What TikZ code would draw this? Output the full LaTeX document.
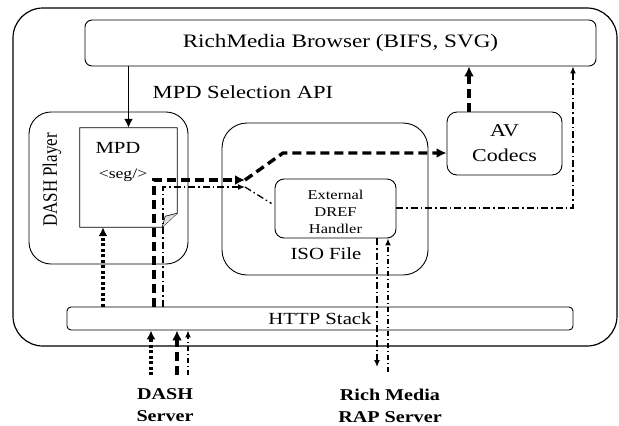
\documentclass[tikz,border=0pt]{standalone}
\usepackage{fontspec}
\setmainfont[FakeStretch=1.22]{Liberation Serif}
\newfontfamily\plainserif{Liberation Serif}
\usetikzlibrary{arrows.meta}
\begin{document}
\begin{tikzpicture}[x=1pt,y=-1pt,
  box/.style={draw, line width=0.9pt, rounded corners=#1, inner sep=0pt},
  box/.default=6pt,
  fs/.style={font=\fontsize{#1}{#1}\selectfont},
  solidarr/.style={line width=1.9pt, -{Latex[length=9pt,width=9pt]}},
  thickdash/.style={line width=3.4pt, dash pattern=on 9pt off 5pt, -{Latex[length=10pt,width=10pt]}},
  thickdot/.style={line width=3.4pt, dash pattern=on 3pt off 2.5pt, -{Latex[length=9pt,width=9pt]}},
  dashdot/.style={line width=1.3pt, dash pattern=on 7pt off 3pt on 1.5pt off 3pt},
  dashdotarr/.style={dashdot, -{Latex[length=7pt,width=6pt]}},
  thindash/.style={line width=1.3pt, dash pattern=on 5pt off 3pt on 1pt off 3pt, -{Latex[length=7pt,width=6pt]}},
]
\useasboundingbox (0,0) rectangle (619,426);

% boxes
\node[box=30pt, line width=1.2pt, minimum width=604pt, minimum height=338pt] (outer) at (315,177) {};
\node[box=7pt, minimum width=511pt, minimum height=46pt, fs=19] (browser) at (340.5,43) {RichMedia Browser (BIFS, SVG)};
\node[fs=18.5, inner sep=0pt] (api) at (243,92) {MPD Selection API};
\node[box=22pt, minimum width=159pt, minimum height=152pt] (player) at (108.5,188) {};
\node[rotate=90, yscale=1.2, font=\plainserif\fontsize{17}{17}\selectfont, inner sep=0pt] (playerlbl) at (52,180) {DASH Player};

\node[minimum width=97pt, minimum height=99pt, inner sep=0pt] (mpd) at (128.5,177.5) {};
\draw[line width=0.8pt, fill=white] (mpd.north west) -- (mpd.north east) -- ([yshift=14pt]mpd.south east) -- ([xshift=-15pt]mpd.south east) -- (mpd.south west) -- cycle;
\draw[line width=0.6pt, fill=gray!25] ([xshift=-15pt]mpd.south east) -- ([xshift=-12pt,yshift=11pt]mpd.south east) -- ([yshift=14pt]mpd.south east);
\node[fs=17, inner sep=0pt] (mpdlbl) at (118,148) {MPD};
\node[fs=14.5, inner sep=0pt] (seglbl) at (123,175) {<seg/>};

\node[box=25pt, minimum width=206pt, minimum height=152pt] (iso) at (325,199) {};
\node[fs=17, inner sep=0pt] (isolbl) at (326,254) {ISO File};
\node[box=9pt, minimum width=121pt, minimum height=59pt] (dref) at (335.5,208.5) {};
\node[font=\fontsize{13.5}{17}\selectfont, align=center, inner sep=0pt] (dreflbl) at (335.5,212) {External\\DREF\\Handler};

\node[box=10pt, minimum width=115pt, minimum height=63pt, font=\fontsize{18}{25}\selectfont, align=center] (av) at (504.5,143.5) {AV\\Codecs};

\node[box=4pt, minimum width=506pt, minimum height=23pt, fs=17] (http) at (320,318.5) {HTTP Stack};

\node[font=\bfseries\fontsize{16.5}{22}\selectfont, align=center, inner sep=0pt] (dashsrv) at (165,405) {DASH\\Server};
\node[font=\bfseries\fontsize{16.5}{22}\selectfont, align=center, inner sep=0pt] (rapsrv) at (390,406) {Rich Media\\RAP Server};

% guide coordinates
\coordinate (gdot) at (103,0);
\coordinate (k1) at (154,180);
\coordinate (k1b) at (245,180);
\coordinate (k2) at (283,153);
\coordinate (m1) at (163,187);
\coordinate (m1b) at (245,187);
\coordinate (r1) at (573,208);
\coordinate (q1) at (469,0);
\coordinate (s1b) at (377,367);
\coordinate (t1b) at (388,372);
\coordinate (d1) at (151,375);
\coordinate (d2) at (177,375);
\coordinate (d3) at (188,375);

% connectors
\draw[solidarr] (browser.south -| mpd.north) -- (mpd.north);
\draw[thickdot] (http.north -| gdot) -- (mpd.south -| gdot);
\draw[thickdash] (http.north -| k1) -- (k1) -- (k1b);
\draw[thickdash] (k1b) -- (k2) -- (av.west |- k2);
\draw[dashdotarr] (http.north -| m1) -- (m1) -- (m1b);
\draw[dashdot] (m1b) -- ([xshift=-3pt,yshift=5pt]dref.west);
\draw[dashdotarr] (dref.east |- r1) -- (r1) -- (browser.south -| r1);
\draw[thickdash] (av.north -| q1) -- (browser.south -| q1);
\draw[dashdotarr] (dref.south -| s1b) -- (s1b);
\draw[thindash] (t1b) -- (dref.south -| t1b);
\draw[thickdot] (d1) -- (http.south -| d1);
\draw[thickdash] (d2) -- (http.south -| d2);
\draw[thindash] (d3) -- (http.south -| d3);
\end{tikzpicture}
\end{document}
